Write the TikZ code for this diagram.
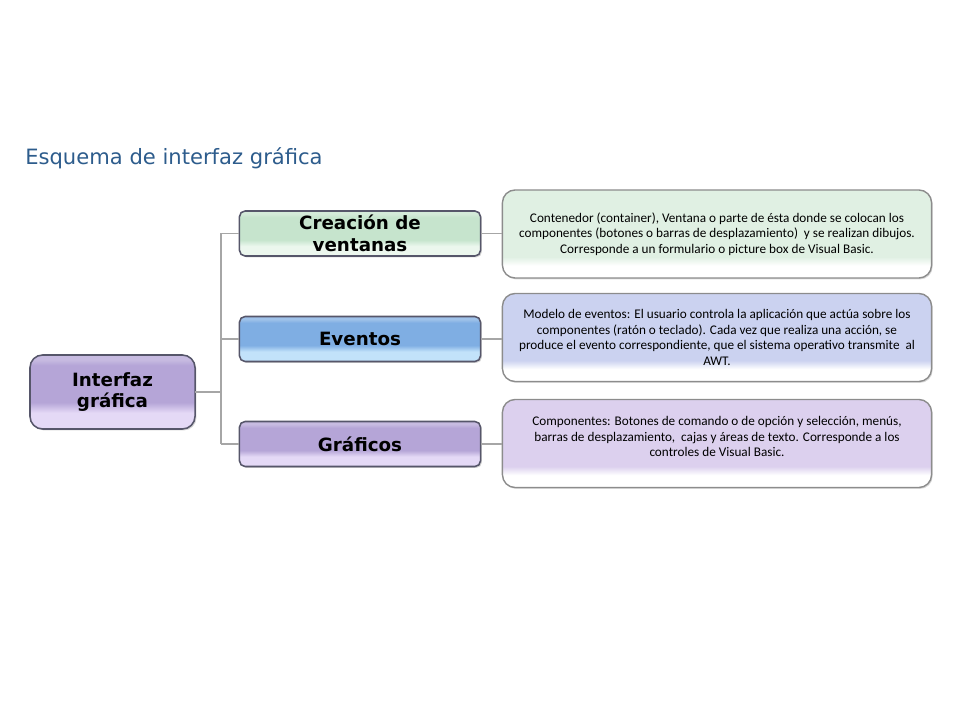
\documentclass[tikz,border=0pt]{standalone}
\usepackage{fontspec}
\setmainfont{DejaVu Sans}
\newfontfamily\descfont{Carlito}
\usepackage{tikz}
\usetikzlibrary{shadows}

\definecolor{titleblue}{HTML}{2D5C8C}
\definecolor{linegray}{HTML}{A6A6A6}
\definecolor{boxedge}{HTML}{56566A}
\definecolor{descedge}{HTML}{8C8C8C}
\definecolor{creagreen}{HTML}{C6E4CD}
\definecolor{crealight}{HTML}{ECF7EE}
\definecolor{evblue}{HTML}{7FAEE3}
\definecolor{evlight}{HTML}{C2E2FA}
\definecolor{grpurple}{HTML}{B5A5D7}
\definecolor{grlight}{HTML}{E4D9F6}
\definecolor{descgreen}{HTML}{E0F0E3}
\definecolor{descblue}{HTML}{CBD2F0}
\definecolor{descpurple}{HTML}{DCD0EE}
\colorlet{boxmain}{grpurple}
\colorlet{boxlight}{grlight}

% bottom gloss, main colour, lighter top edge
\pgfdeclareverticalshading[boxmain,boxlight]{gloss}{100bp}{color(0bp)=(boxlight); color(36bp)=(boxlight); color(43bp)=(boxmain); color(68bp)=(boxmain); color(72bp)=(boxmain!75!white); color(100bp)=(boxmain!75!white)}
\pgfdeclareverticalshading[boxmain,boxlight]{descgloss}{100bp}{color(0bp)=(boxlight); color(32bp)=(boxlight); color(37bp)=(boxmain); color(100bp)=(boxmain)}

\tikzset{
  conn/.style={draw=linegray, line width=1.3pt},
  glossy/.style n args={3}{/utils/exec={\colorlet{boxmain}{#1}\colorlet{boxlight}{#2}}, shade, shading=#3},
  glossbox/.style n args={2}{draw=boxedge, line width=1.1pt, rounded corners=4pt,
    glossy={#1}{#2}{gloss}, inner sep=0pt, outer sep=0pt, align=center,
    drop shadow={shadow xshift=1pt, shadow yshift=-1pt, opacity=0.35},
    font=\fontsize{13}{16}\selectfont\bfseries},
  topic/.style n args={2}{glossbox={#1}{#2}, minimum width=6.025cm, minimum height=1.125cm},
  descbox/.style={draw=descedge, line width=1pt, rounded corners=9pt,
    glossy={#1}{white}{descgloss}, inner sep=0pt, outer sep=0pt, align=center,
    minimum width=10.725cm, minimum height=2.2cm,
    drop shadow={shadow xshift=0.8pt, shadow yshift=-1pt, opacity=0.3},
    font=\descfont\fontsize{9.4}{11}\selectfont}
}

\begin{document}
\begin{tikzpicture}[x=0.025cm, y=-0.025cm]
\useasboundingbox (0,0) rectangle (960,720);
\node [anchor=base west, inner sep=0pt, text=titleblue, font=\fontsize{15}{18}\selectfont] (title) at (25,165) {Esquema de interfaz gráfica};

% root
\node [glossbox={grpurple}{grlight}, rounded corners=9pt, minimum width=4.125cm, minimum height=1.85cm,
  font=\fontsize{13}{15.6}\selectfont\bfseries] (interfaz) at (112.5,392) {Interfaz\\gráfica};

% second level
\node [topic={creagreen}{crealight}] (creacion) at (360,233.5) {Creación de\\ventanas};
\node [topic={evblue}{evlight}] (eventos) at (360,339) {Eventos};
\node [topic={grpurple}{grlight}] (graficos) at (360,444) {Gráficos};

% descriptions
\node [descbox=descgreen] (dcreacion) at (717,234) {Contenedor (container), Ventana o parte de ésta donde se colocan los\\componentes (botones o barras de desplazamiento) \ y se realizan dibujos.\\Corresponde a un formulario o picture box de Visual Basic.};
\node [descbox=descblue] (deventos) at (717,337.5) {Modelo de eventos: El usuario controla la aplicación que actúa sobre los\\componentes (ratón o teclado). Cada vez que realiza una acción, se\\produce el evento correspondiente, que el sistema operativo transmite \ al\\AWT.};
\node [descbox=descpurple] (dgraficos) at (717,443.5) {Componentes: Botones de comando o de opción y selección, menús,\\barras de desplazamiento, \ cajas y áreas de texto. Corresponde a los\\controles de Visual Basic.\\[-1pt]};

% connectors
\coordinate (trunk) at (221,392);
\draw [conn] (interfaz.east) -- (trunk);
\draw [conn] (trunk |- creacion) -- (trunk |- graficos);
\draw [conn] (trunk |- creacion) -- (creacion.west);
\draw [conn] (trunk |- eventos) -- (eventos.west);
\draw [conn] (trunk |- graficos) -- (graficos.west);
\draw [conn] (creacion.east) -- (dcreacion.west |- creacion);
\draw [conn] (eventos.east) -- (deventos.west |- eventos);
\draw [conn] (graficos.east) -- (dgraficos.west |- graficos);
\end{tikzpicture}
\end{document}
